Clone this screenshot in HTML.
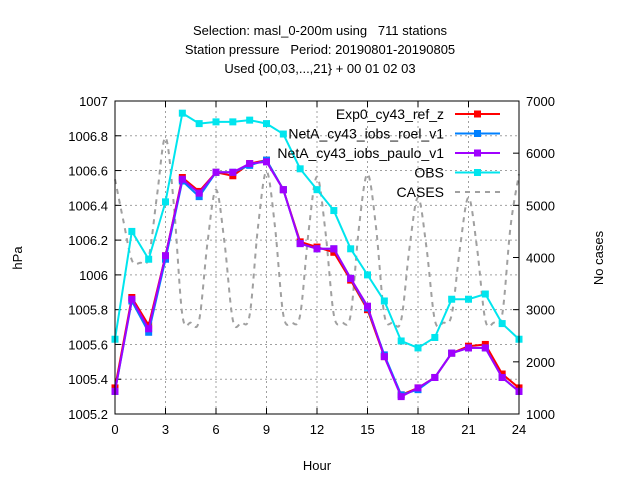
<!DOCTYPE html>
<html><head><meta charset="utf-8"><style>
body{margin:0;background:#fff}
svg{display:block;font-family:"Liberation Sans",sans-serif;font-size:13px}
text{white-space:pre}
</style></head><body>
<svg id="chart" width="640" height="480">
<g text-anchor="middle">
<text x="320" y="35" xml:space="preserve">Selection: masl_0-200m using   711 stations</text>
<text x="320" y="54" xml:space="preserve">Station pressure   Period: 20190801-20190805</text>
<text x="320" y="73">Used {00,03,...,21} + 00 01 02 03</text>
</g>
<text transform="translate(22,258) rotate(-90)" text-anchor="middle">hPa</text>
<text transform="translate(603,258) rotate(-90)" text-anchor="middle">No cases</text>
<text x="317" y="470" text-anchor="middle">Hour</text>
<g id="grid"></g><g id="axes"></g><g id="series"></g><g id="legend"></g>
<rect x="115" y="101" width="404" height="313" fill="none" stroke="#000" stroke-width="1"/>
</svg>
<script>
const hours=[0,1,2,3,4,5,6,7,8,9,10,11,12,13,14,15,16,17,18,19,20,21,22,23,24];
const exp0=[1005.35,1005.87,1005.71,1006.11,1006.56,1006.48,1006.59,1006.57,1006.64,1006.66,1006.49,1006.19,1006.16,1006.13,1005.97,1005.80,1005.53,1005.31,1005.35,1005.41,1005.55,1005.59,1005.60,1005.43,1005.35];
const roel=[1005.33,1005.85,1005.67,1006.09,1006.54,1006.45,1006.59,1006.59,1006.63,1006.66,1006.49,1006.18,1006.15,1006.15,1005.98,1005.81,1005.54,1005.31,1005.34,1005.41,1005.55,1005.58,1005.58,1005.41,1005.33];
const paulo=[1005.33,1005.86,1005.69,1006.11,1006.55,1006.47,1006.59,1006.59,1006.64,1006.65,1006.49,1006.18,1006.15,1006.15,1005.98,1005.82,1005.53,1005.30,1005.35,1005.41,1005.55,1005.58,1005.58,1005.41,1005.33];
const obs=[1005.63,1006.25,1006.09,1006.42,1006.93,1006.87,1006.88,1006.88,1006.89,1006.87,1006.81,1006.61,1006.49,1006.37,1006.15,1006.00,1005.85,1005.62,1005.58,1005.64,1005.86,1005.86,1005.89,1005.72,1005.63];
const caseHours=[0,0.5,1,1.5,2,2.5,3,3.5,4,4.5,5,5.5,6,6.5,7,7.5,8,8.5,9,9.5,10,10.5,11,11.5,12,12.5,13,13.5,14,14.5,15,15.5,16,16.5,17,17.5,18,18.5,19,19.5,20,20.5,21,21.5,22,22.5,23,23.5,24];
const cases=[5500,4700,3950,3900,4000,5200,6300,5000,2900,2750,2800,4300,5300,4300,2800,2750,2900,4600,5650,4600,2900,2750,2900,4500,5550,4500,2900,2750,2900,4600,5600,4600,2900,2750,2800,4200,5150,4200,2800,2750,2900,4200,5150,4200,2800,2750,2900,4600,5600];
const yTicks=[1005.2,1005.4,1005.6,1005.8,1006,1006.2,1006.4,1006.6,1006.8,1007];
const yTickLabels=["1005.2","1005.4","1005.6","1005.8","1006","1006.2","1006.4","1006.6","1006.8","1007"];
const y2Ticks=[1000,2000,3000,4000,5000,6000,7000];
const xTicks=[0,3,6,9,12,15,18,21,24];

const NS="http://www.w3.org/2000/svg";
const L=115,R=519,T=101,B=414;
const X=h=>L+(h-0)/24*(R-L);
const Y=v=>B-(v-1005.2)/1.8*(B-T);
const Y2=v=>B-(v-1000)/6000*(B-T);
function mk(tag,attrs,parent){const e=document.createElementNS(NS,tag);for(const k in attrs)e.setAttribute(k,attrs[k]);parent.appendChild(e);return e;}
const grid=document.getElementById('grid'),axes=document.getElementById('axes'),ser=document.getElementById('series'),leg=document.getElementById('legend');
xTicks.forEach(h=>{
  if(h>0&&h<24){const g=mk('line',{x1:X(h),x2:X(h),y1:T,y2:B,stroke:'#a0a0a0','stroke-dasharray':'2,3'},grid);
  
  }
  mk('line',{x1:X(h),x2:X(h),y1:B,y2:B-6,stroke:'#000'},axes);
  mk('line',{x1:X(h),x2:X(h),y1:T,y2:T+6,stroke:'#000'},axes);
  const t=mk('text',{x:X(h),y:B+20,'text-anchor':'middle'},axes);t.textContent=h;
  
  
});
yTicks.forEach((v,i)=>{
  if(i>0&&i<yTicks.length-1){const g=mk('line',{x1:L,x2:R,y1:Y(v),y2:Y(v),stroke:'#a0a0a0','stroke-dasharray':'2,3'},grid);
  
  }
  mk('line',{x1:L,x2:L+6,y1:Y(v),y2:Y(v),stroke:'#000'},axes);
  const t=mk('text',{x:L-7,y:Y(v)+5,'text-anchor':'end'},axes);t.textContent=yTickLabels[i];
  
  
});
y2Ticks.forEach(v=>{
  mk('line',{x1:R-6,x2:R,y1:Y2(v),y2:Y2(v),stroke:'#000'},axes);
  const t=mk('text',{x:R+7,y:Y2(v)+5,'text-anchor':'start'},axes);t.textContent=v;
  
  
});
let d='';const pts=caseHours.map((h,i)=>[X(h),Y2(cases[i])]);
d='M'+pts[0][0]+','+pts[0][1];
for(let i=0;i<pts.length-1;i++){const p0=pts[Math.max(0,i-1)],p1=pts[i],p2=pts[i+1],p3=pts[Math.min(pts.length-1,i+2)];
 d+=` C${p1[0]+(p2[0]-p0[0])/6},${p1[1]+(p2[1]-p0[1])/6} ${p2[0]-(p3[0]-p1[0])/6},${p2[1]-(p3[1]-p1[1])/6} ${p2[0]},${p2[1]}`;}
const cp=mk('path',{d:d,fill:'none',stroke:'#a0a0a0','stroke-width':2,'stroke-dasharray':'5,5'},ser);


const series=[[obs,'#00e5ee','obs'],[exp0,'#ff0000','exp0'],[roel,'#0080ff','roel'],[paulo,'#a000ff','paulo']];
series.forEach(([vals,col,nm])=>{
  const g=mk('g',{},ser);
  
  
  mk('polyline',{points:hours.map((h,i)=>X(h)+','+Y(vals[i])).join(' '),fill:'none',stroke:col,'stroke-width':2},g);
  hours.forEach((h,i)=>{const m=mk('rect',{x:X(h)-3.5,y:Y(vals[i])-3.5,width:7,height:7,fill:col},g);
    
    });
});
const legItems=[['Exp0_cy43_ref_z','#ff0000',0],['NetA_cy43_iobs_roel_v1','#0080ff',0],['NetA_cy43_iobs_paulo_v1','#a000ff',0],['OBS','#00e5ee',0],['CASES','#a0a0a0',1]];
legItems.forEach(([lab,col,dash],i)=>{
  const y=114+i*19.5;
  const g=mk('g',{},leg);
  
  
  const t=mk('text',{x:444,y:y+5,'text-anchor':'end','font-size':'14'},g);t.textContent=lab;
  if(dash){mk('line',{x1:455,x2:500,y1:y,y2:y,stroke:col,'stroke-width':2,'stroke-dasharray':'5,5'},g);}
  else{mk('line',{x1:455,x2:500,y1:y,y2:y,stroke:col,'stroke-width':2},g);mk('rect',{x:474,y:y-3.5,width:7,height:7,fill:col},g);}
});
</script>
</body></html>
